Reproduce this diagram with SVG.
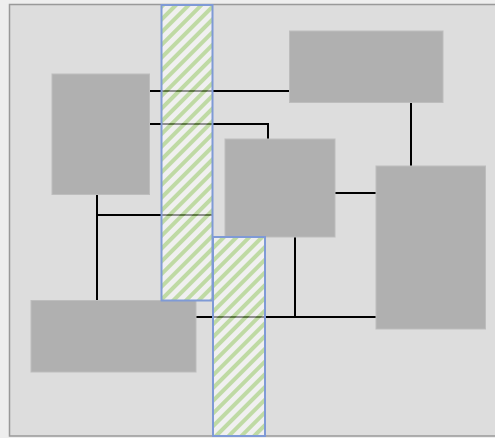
<svg xmlns="http://www.w3.org/2000/svg" width="495" height="438" viewBox="0 0 495 438">
<defs>
<pattern id="hatch" patternUnits="userSpaceOnUse" width="9" height="9" patternTransform="rotate(45)">
<rect x="0" y="0" width="9" height="9" fill="#ffffff"/>
<rect x="0" y="0" width="4" height="9" fill="#a8d778"/>
</pattern>
</defs>
<style>
.node{fill:#b0b0b0;stroke:#bdbdbd;stroke-width:1}
.conn{fill:none;stroke:#000;stroke-width:2}
.strip{fill:url(#hatch);fill-opacity:0.56;stroke:#7f9ad6;stroke-width:2}
</style>
<rect x="0" y="0" width="495" height="438" fill="#eeeeee"/>
<rect x="9.5" y="4.5" width="500" height="431.5" fill="#dddddd" stroke="#999999" stroke-width="1.5"/>
<g id="connectors">
<path class="conn" d="M148 91H290"/>
<path class="conn" d="M148 124H268V140"/>
<path class="conn" d="M97 194V300"/>
<path class="conn" d="M97 215H213"/>
<path class="conn" d="M411 103V166"/>
<path class="conn" d="M335 193H376"/>
<path class="conn" d="M196 317H376"/>
<path class="conn" d="M295 237V317"/>
</g>
<g id="nodeA"><rect class="node" x="52" y="74" width="97.5" height="120.5"/></g>
<g id="nodeB"><rect class="node" x="289.5" y="31" width="153.5" height="71.5"/></g>
<g id="nodeC"><rect class="node" x="225" y="139" width="110" height="98"/></g>
<g id="nodeD"><rect class="node" x="376" y="166" width="109.5" height="163"/></g>
<g id="nodeE"><rect class="node" x="31" y="300.5" width="165" height="71.5"/></g>
<g id="strip1"><rect class="strip" x="161.5" y="5" width="51" height="295.5"/></g>
<g id="strip2"><rect class="strip" x="213" y="237" width="52" height="199"/></g>
</svg>
